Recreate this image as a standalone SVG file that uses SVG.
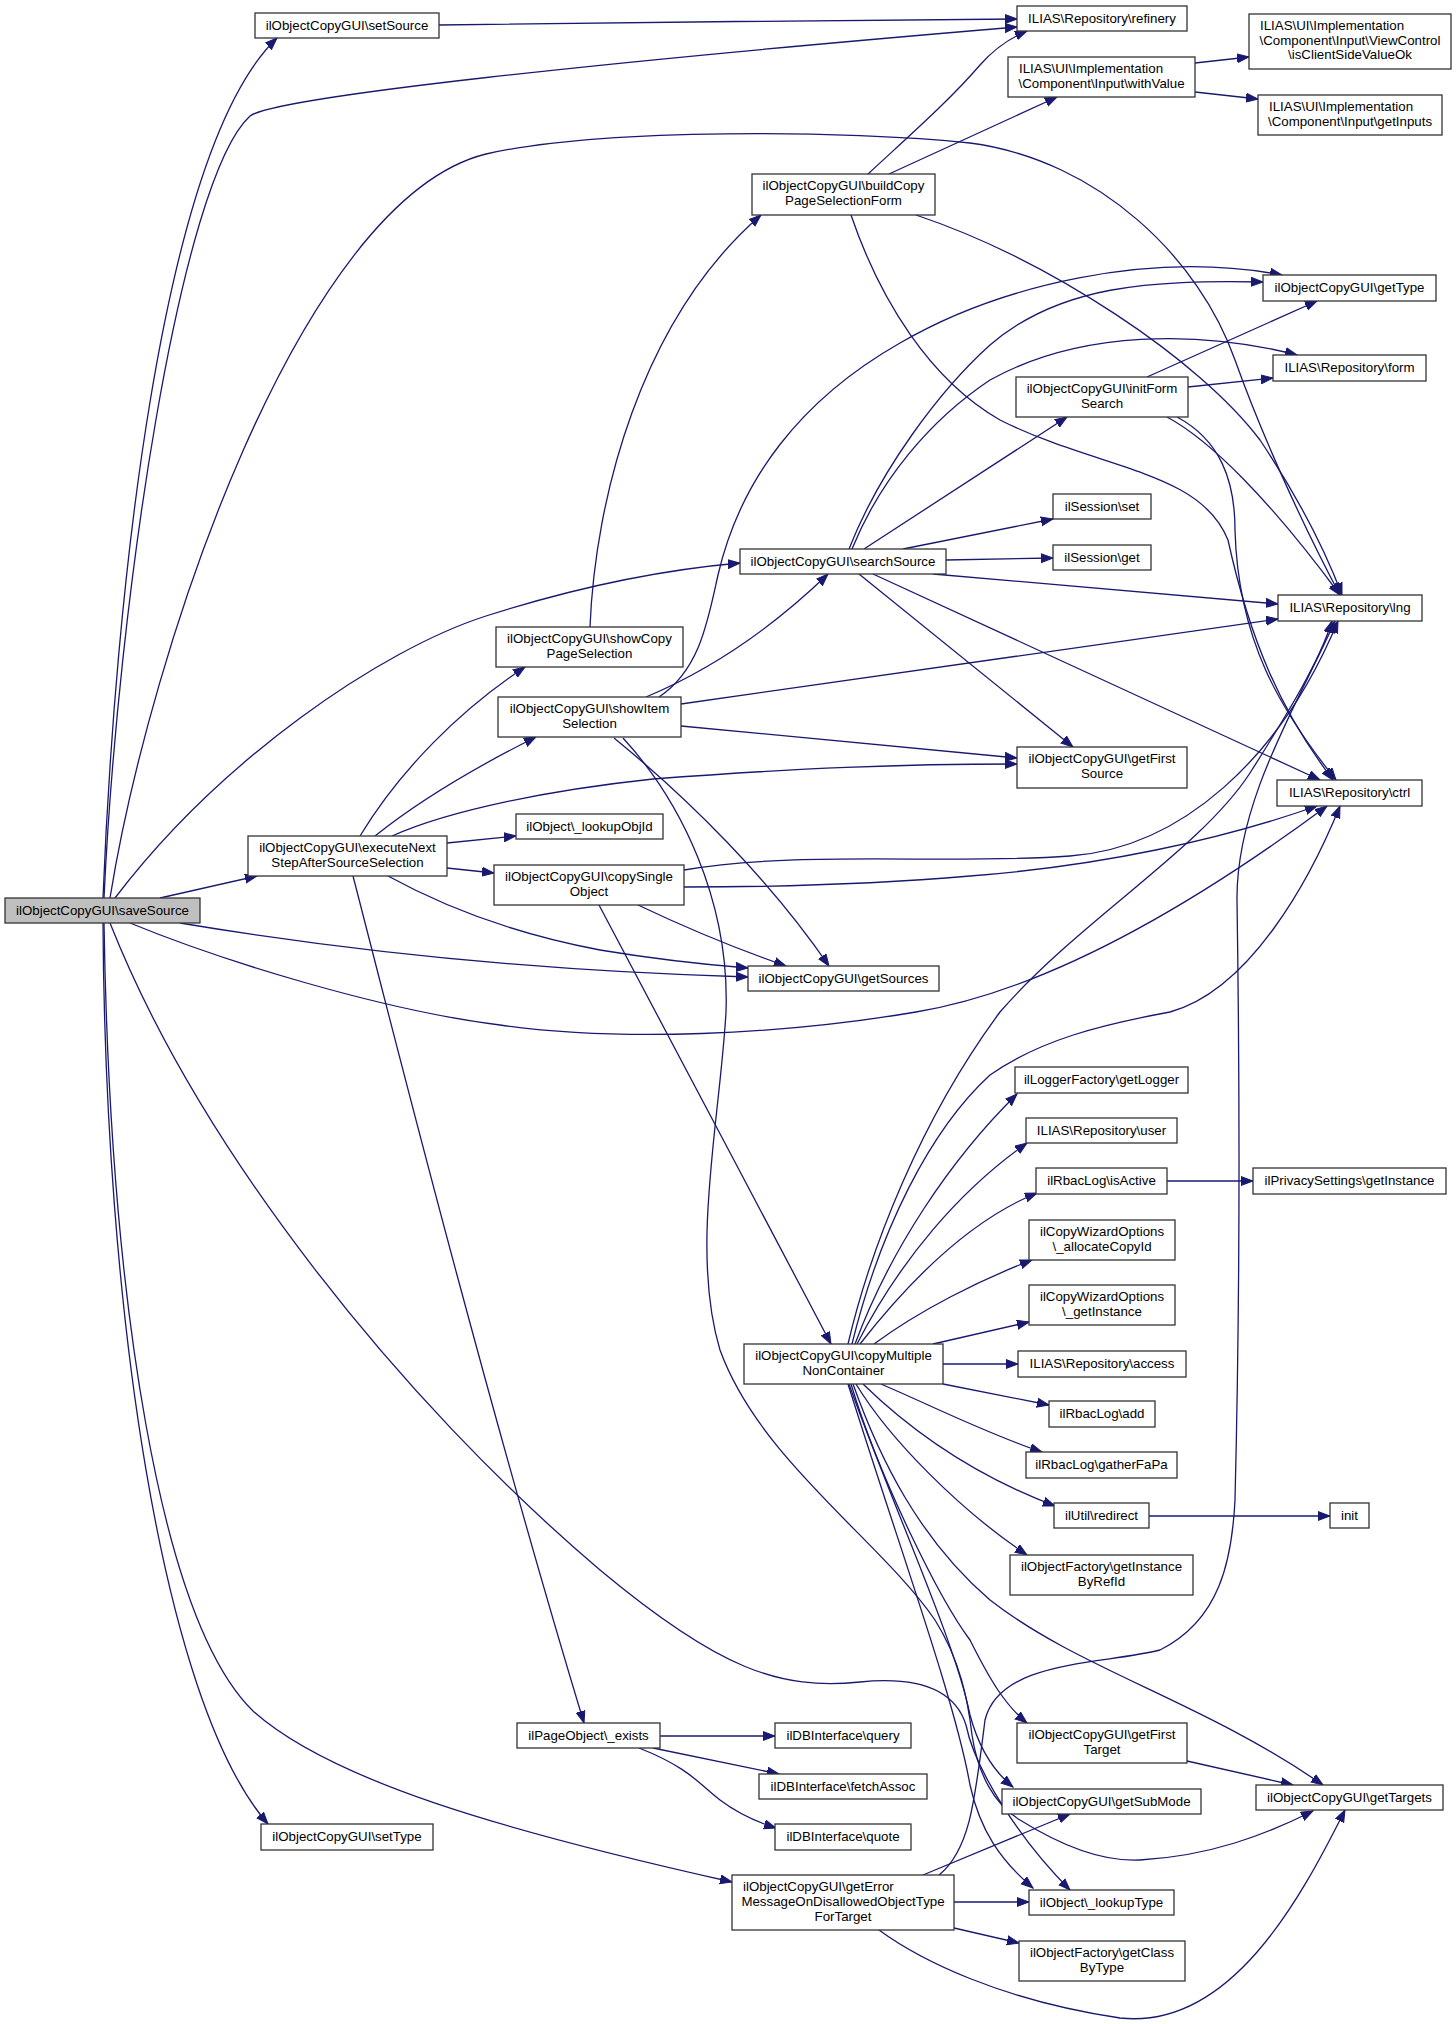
<svg xmlns="http://www.w3.org/2000/svg" width="1456" height="2024" viewBox="0 0 1456 2024">
<style>
.node rect{fill:#ffffff;stroke:#333333;stroke-width:1.3}
.node rect.hl{fill:#bfbfbf}
.node text{font-family:"Liberation Sans",Arial,Helvetica,sans-serif;font-size:13.3px;fill:#000000;text-anchor:middle}
.node text.l{text-anchor:start}
#edges path{fill:none;stroke:#191970;stroke-width:1.3;marker-end:url(#ah)}
</style>
<defs>
<marker id="ah" markerWidth="14" markerHeight="11" refX="12" refY="5" orient="auto" markerUnits="userSpaceOnUse">
<path d="M0,0.5 L12,5 L0,9.5 z" fill="#191970" stroke="#191970" stroke-width="1"/>
</marker>
</defs>
<rect x="0" y="0" width="1456" height="2024" fill="#ffffff"/>
<g id="edges">
<path d="M103,898 C115,600 160,150 277,38"/>
<path d="M104,898 C118,600 180,180 250,116 C275,97 600,62 1017,27"/>
<path d="M110,898 C150,650 300,200 486,154 C600,128 850,130 970,143 C1100,160 1200,260 1235,360 C1260,430 1300,520 1340,595"/>
<path d="M115,898 C220,760 380,650 486,616 C580,586 660,570 740,563"/>
<path d="M160,898 L257,876"/>
<path d="M180,923 C300,943 500,970 748,977"/>
<path d="M130,923 C220,960 380,1010 500,1025 C620,1042 780,1035 916,1012 C1050,990 1200,900 1327,806"/>
<path d="M110,923 C200,1150 400,1400 600,1570 C720,1670 780,1690 860,1682 C920,1676 955,1690 966,1725 C975,1770 1020,1840 1070,1890"/>
<path d="M103,923 C105,1300 160,1700 268,1824"/>
<path d="M104,923 C110,1300 160,1620 253,1711 C330,1780 500,1830 732,1882"/>
<path d="M360,836 C400,770 460,710 525,667"/>
<path d="M375,836 C420,800 470,770 536,737"/>
<path d="M392,836 C450,810 550,790 653,779 C800,768 900,764 1017,764"/>
<path d="M447,843 L516,836"/>
<path d="M447,868 L494,873"/>
<path d="M388,876 C450,910 520,935 600,950 C660,960 710,965 748,968"/>
<path d="M353,876 C380,980 480,1380 584,1723"/>
<path d="M684,870 C800,850 950,865 1070,856 C1180,848 1280,760 1338,621"/>
<path d="M684,887 C800,887 900,882 970,876 C1100,866 1220,840 1317,806"/>
<path d="M638,905 C680,925 740,950 786,966"/>
<path d="M599,905 C650,1000 760,1210 831,1344"/>
<path d="M646,697 C710,670 770,630 828,574"/>
<path d="M659,697 C700,670 708,620 718,575 C740,480 800,400 900,343 C1000,285 1150,250 1282,275"/>
<path d="M681,704 L1278,619"/>
<path d="M681,726 L1017,758"/>
<path d="M614,738 C690,800 770,880 829,966"/>
<path d="M623,738 C680,800 730,900 726,1012 C720,1120 690,1250 720,1350 C760,1460 880,1540 935,1620 C960,1660 968,1700 972,1735 C978,1775 995,1805 1020,1820 C1060,1845 1100,1862 1140,1860 C1210,1856 1265,1835 1313,1811"/>
<path d="M849,549 C880,470 940,390 990,345 C1060,285 1150,280 1263,282"/>
<path d="M852,549 C880,480 930,420 990,380 C1080,330 1200,330 1297,355"/>
<path d="M864,549 L1067,417"/>
<path d="M903,549 L1053,519"/>
<path d="M946,560 L1053,558"/>
<path d="M933,574 L1278,604"/>
<path d="M873,574 L1320,780"/>
<path d="M859,574 L1073,747"/>
<path d="M1147,377 L1317,301"/>
<path d="M1188,387 L1273,378"/>
<path d="M1167,417 C1210,440 1270,500 1340,595"/>
<path d="M1177,417 C1220,440 1235,480 1235,530 C1238,640 1280,710 1336,780"/>
<path d="M868,174 C910,135 950,100 980,65 C995,48 1010,38 1027,31"/>
<path d="M889,174 L1057,97"/>
<path d="M916,215 C1050,260 1200,360 1260,440 C1300,500 1325,550 1342,595"/>
<path d="M851,215 C880,300 930,380 1000,420 C1100,470 1200,470 1228,540 C1250,640 1280,710 1333,780"/>
<path d="M1195,63 L1249,57"/>
<path d="M1195,92 L1258,99"/>
<path d="M439,25 C600,23 850,20 1017,19"/>
<path d="M590,627 C595,500 640,320 761,215"/>
<path d="M1167,1181 L1253,1181"/>
<path d="M1149,1516 L1330,1516"/>
<path d="M1187,1761 L1293,1785"/>
<path d="M660,1736 L775,1736"/>
<path d="M653,1748 L779,1774"/>
<path d="M639,1748 C690,1768 700,1785 720,1800 C740,1815 760,1823 776,1828"/>
<path d="M923,1875 L1070,1814"/>
<path d="M939,1875 C970,1850 975,1800 985,1720 C1000,1660 1100,1665 1160,1650 C1220,1620 1232,1560 1235,1500 C1240,1300 1240,1100 1237,900 C1236,800 1300,700 1335,621"/>
<path d="M954,1902 L1029,1902"/>
<path d="M954,1928 L1019,1943"/>
<path d="M879,1930 C920,1960 1000,2000 1120,2018 C1230,2030 1300,1900 1345,1810"/>
<path d="M848,1344 C870,1250 920,1120 1000,1012 C1080,920 1200,850 1250,773 C1290,710 1320,660 1332,621"/>
<path d="M852,1344 C880,1230 930,1130 990,1075 C1040,1040 1100,1025 1170,1012 C1250,990 1310,880 1340,806"/>
<path d="M855,1344 C890,1250 950,1160 1017,1094"/>
<path d="M857,1344 C900,1260 960,1190 1027,1143"/>
<path d="M860,1344 C910,1280 970,1220 1037,1193"/>
<path d="M874,1344 C920,1310 980,1280 1032,1260"/>
<path d="M933,1344 L1029,1322"/>
<path d="M943,1364 L1018,1364"/>
<path d="M943,1384 L1049,1405"/>
<path d="M881,1384 C930,1405 990,1435 1042,1452"/>
<path d="M863,1384 C900,1420 960,1470 1055,1506"/>
<path d="M856,1384 C890,1440 960,1510 1027,1555"/>
<path d="M853,1384 C880,1460 920,1540 990,1600 C1080,1670 1200,1700 1323,1785"/>
<path d="M851,1384 C880,1480 940,1600 970,1640 C990,1680 1005,1705 1027,1723"/>
<path d="M849,1384 C890,1500 955,1640 970,1715 C978,1745 992,1770 1013,1787"/>
<path d="M848,1384 C900,1550 955,1700 970,1785 C980,1830 1000,1860 1033,1888"/>
</g>
<g id="n_saveSource" class="node"><rect class="hl" x="5" y="898" width="195" height="25"/><text x="102.5" y="915">ilObjectCopyGUI\saveSource</text></g>
<g id="n_setSource" class="node"><rect x="255" y="13" width="184" height="25"/><text x="347" y="30">ilObjectCopyGUI\setSource</text></g>
<g id="n_refinery" class="node"><rect x="1017" y="6" width="170" height="25"/><text x="1102" y="23">ILIAS\Repository\refinery</text></g>
<g id="n_withValue" class="node"><rect x="1008" y="57" width="187" height="40"/><text class="l" x="1019" y="73">ILIAS\UI\Implementation</text><text x="1101.5" y="88">\Component\Input\withValue</text></g>
<g id="n_isClientSideValueOk" class="node"><rect x="1249" y="14" width="202" height="55"/><text class="l" x="1260" y="30">ILIAS\UI\Implementation</text><text x="1350" y="45">\Component\Input\ViewControl</text><text x="1350" y="59">\isClientSideValueOk</text></g>
<g id="n_getInputs" class="node"><rect x="1258" y="95" width="184" height="40"/><text class="l" x="1269" y="111">ILIAS\UI\Implementation</text><text x="1350" y="126">\Component\Input\getInputs</text></g>
<g id="n_buildCopy" class="node"><rect x="752" y="174" width="183" height="41"/><text x="843.5" y="190">ilObjectCopyGUI\buildCopy</text><text x="843.5" y="205">PageSelectionForm</text></g>
<g id="n_getType" class="node"><rect x="1263" y="275" width="173" height="26"/><text x="1349.5" y="292">ilObjectCopyGUI\getType</text></g>
<g id="n_form" class="node"><rect x="1273" y="355" width="153" height="26"/><text x="1349.5" y="372">ILIAS\Repository\form</text></g>
<g id="n_initFormSearch" class="node"><rect x="1016" y="377" width="172" height="40"/><text x="1102" y="393">ilObjectCopyGUI\initForm</text><text x="1102" y="408">Search</text></g>
<g id="n_sessionSet" class="node"><rect x="1053" y="494" width="98" height="25"/><text x="1102" y="511">ilSession\set</text></g>
<g id="n_searchSource" class="node"><rect x="740" y="549" width="206" height="25"/><text x="843" y="566">ilObjectCopyGUI\searchSource</text></g>
<g id="n_sessionGet" class="node"><rect x="1053" y="545" width="98" height="25"/><text x="1102" y="562">ilSession\get</text></g>
<g id="n_lng" class="node"><rect x="1278" y="595" width="144" height="26"/><text x="1350" y="612">ILIAS\Repository\lng</text></g>
<g id="n_showCopyPageSelection" class="node"><rect x="496" y="627" width="187" height="40"/><text x="589.5" y="643">ilObjectCopyGUI\showCopy</text><text x="589.5" y="658">PageSelection</text></g>
<g id="n_showItemSelection" class="node"><rect x="498" y="697" width="183" height="40"/><text x="589.5" y="713">ilObjectCopyGUI\showItem</text><text x="589.5" y="728">Selection</text></g>
<g id="n_getFirstSource" class="node"><rect x="1017" y="747" width="170" height="41"/><text x="1102" y="763">ilObjectCopyGUI\getFirst</text><text x="1102" y="778">Source</text></g>
<g id="n_ctrl" class="node"><rect x="1277" y="780" width="145" height="26"/><text x="1349.5" y="797">ILIAS\Repository\ctrl</text></g>
<g id="n_lookupObjId" class="node"><rect x="516" y="814" width="147" height="25"/><text x="589.5" y="831">ilObject\_lookupObjId</text></g>
<g id="n_executeNext" class="node"><rect x="248" y="836" width="199" height="40"/><text x="347.5" y="852">ilObjectCopyGUI\executeNext</text><text x="347.5" y="867">StepAfterSourceSelection</text></g>
<g id="n_copySingleObject" class="node"><rect x="494" y="865" width="190" height="40"/><text x="589" y="881">ilObjectCopyGUI\copySingle</text><text x="589" y="896">Object</text></g>
<g id="n_getSources" class="node"><rect x="748" y="966" width="191" height="25"/><text x="843.5" y="983">ilObjectCopyGUI\getSources</text></g>
<g id="n_getLogger" class="node"><rect x="1015" y="1067" width="173" height="26"/><text x="1101.5" y="1084">ilLoggerFactory\getLogger</text></g>
<g id="n_user" class="node"><rect x="1026" y="1118" width="151" height="25"/><text x="1101.5" y="1135">ILIAS\Repository\user</text></g>
<g id="n_isActive" class="node"><rect x="1036" y="1168" width="131" height="26"/><text x="1101.5" y="1185">ilRbacLog\isActive</text></g>
<g id="n_privacyGetInstance" class="node"><rect x="1253" y="1168" width="193" height="26"/><text x="1349.5" y="1185">ilPrivacySettings\getInstance</text></g>
<g id="n_allocateCopyId" class="node"><rect x="1029" y="1220" width="146" height="40"/><text x="1102" y="1236">ilCopyWizardOptions</text><text x="1102" y="1251">\_allocateCopyId</text></g>
<g id="n_cwGetInstance" class="node"><rect x="1029" y="1285" width="146" height="40"/><text x="1102" y="1301">ilCopyWizardOptions</text><text x="1102" y="1316">\_getInstance</text></g>
<g id="n_access" class="node"><rect x="1018" y="1351" width="168" height="26"/><text x="1102" y="1368">ILIAS\Repository\access</text></g>
<g id="n_copyMultiple" class="node"><rect x="744" y="1344" width="199" height="40"/><text x="843.5" y="1360">ilObjectCopyGUI\copyMultiple</text><text x="843.5" y="1375">NonContainer</text></g>
<g id="n_add" class="node"><rect x="1049" y="1401" width="106" height="26"/><text x="1102" y="1418">ilRbacLog\add</text></g>
<g id="n_gatherFaPa" class="node"><rect x="1026" y="1452" width="151" height="26"/><text x="1101.5" y="1469">ilRbacLog\gatherFaPa</text></g>
<g id="n_redirect" class="node"><rect x="1054" y="1503" width="95" height="25"/><text x="1101.5" y="1520">ilUtil\redirect</text></g>
<g id="n_init" class="node"><rect x="1330" y="1503" width="39" height="25"/><text x="1349.5" y="1520">init</text></g>
<g id="n_getInstanceByRefId" class="node"><rect x="1010" y="1555" width="183" height="40"/><text x="1101.5" y="1571">ilObjectFactory\getInstance</text><text x="1101.5" y="1586">ByRefId</text></g>
<g id="n_exists" class="node"><rect x="517" y="1723" width="143" height="25"/><text x="588.5" y="1740">ilPageObject\_exists</text></g>
<g id="n_query" class="node"><rect x="775" y="1723" width="136" height="25"/><text x="843" y="1740">ilDBInterface\query</text></g>
<g id="n_getFirstTarget" class="node"><rect x="1017" y="1723" width="170" height="40"/><text x="1102" y="1739">ilObjectCopyGUI\getFirst</text><text x="1102" y="1754">Target</text></g>
<g id="n_fetchAssoc" class="node"><rect x="759" y="1774" width="168" height="25"/><text x="843" y="1791">ilDBInterface\fetchAssoc</text></g>
<g id="n_getTargets" class="node"><rect x="1256" y="1785" width="187" height="25"/><text x="1349.5" y="1802">ilObjectCopyGUI\getTargets</text></g>
<g id="n_getSubMode" class="node"><rect x="1002" y="1789" width="199" height="25"/><text x="1101.5" y="1806">ilObjectCopyGUI\getSubMode</text></g>
<g id="n_setType" class="node"><rect x="261" y="1824" width="172" height="26"/><text x="347" y="1841">ilObjectCopyGUI\setType</text></g>
<g id="n_quote" class="node"><rect x="775" y="1824" width="136" height="26"/><text x="843" y="1841">ilDBInterface\quote</text></g>
<g id="n_getErrorMessage" class="node"><rect x="732" y="1875" width="222" height="55"/><text class="l" x="743" y="1891">ilObjectCopyGUI\getError</text><text x="843" y="1906">MessageOnDisallowedObjectType</text><text x="843" y="1921">ForTarget</text></g>
<g id="n_lookupType" class="node"><rect x="1029" y="1890" width="145" height="25"/><text x="1101.5" y="1907">ilObject\_lookupType</text></g>
<g id="n_getClassByType" class="node"><rect x="1019" y="1941" width="166" height="40"/><text x="1102" y="1957">ilObjectFactory\getClass</text><text x="1102" y="1972">ByType</text></g>
</svg>
